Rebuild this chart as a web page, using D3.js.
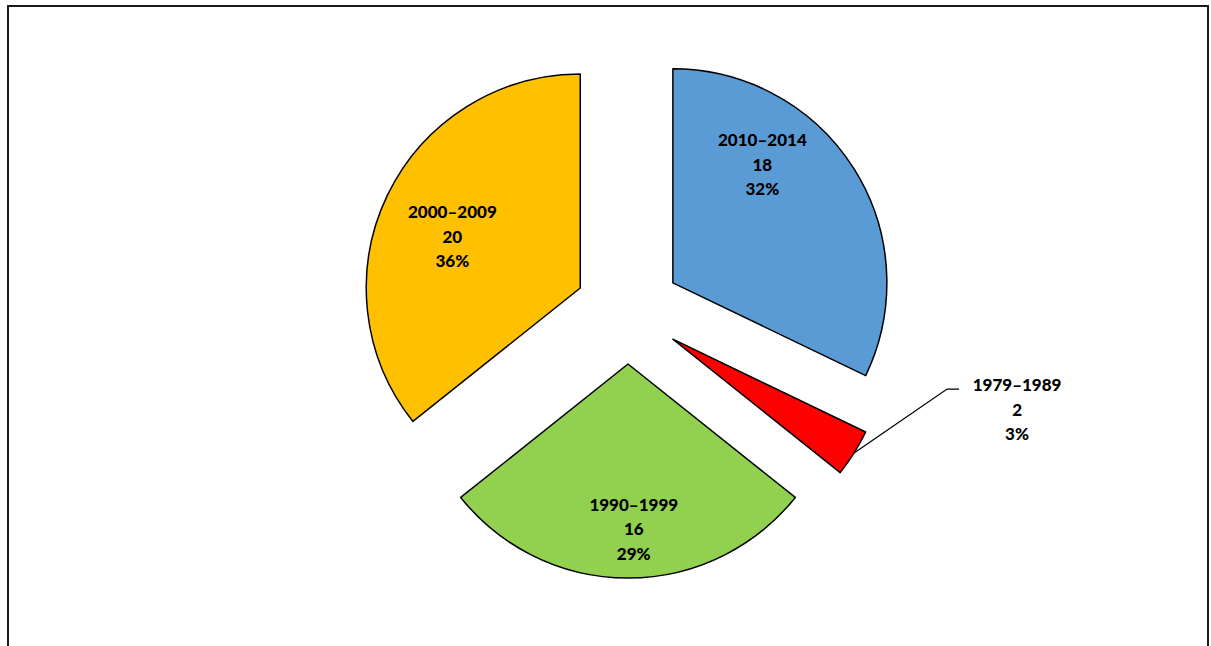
<!DOCTYPE html>
<html lang="en">
<head>
  <meta charset="UTF-8">
  <title>pie</title>
  <script type="text/javascript" src="https://cdn.jsdelivr.net/npm/d3@7"></script>
  <style>
    body { margin: 0; background: #fff; }
    text { font-family: Lato, "Open Sans", sans-serif; font-weight: 900; font-size: 17px; fill: #000; }
  </style>
</head>
<body>
<div id="chart"></div>
<script type="text/javascript">
    // data
    let categories = ["2010–2014", "1979–1989", "1990–1999", "2000–2009"];
    let counts = [18, 2, 16, 20];
    let percents = ["32%", "3%", "29%", "36%"];
    let colors = ["#5B9BD5", "#FF0000", "#92D050", "#FFC000"];

    let width = 1211, height = 646;
    let svg = d3.select("#chart").append("svg")
        .attr("width", width).attr("height", height);

    // outer frame
    svg.append("rect").attr("x", 8).attr("y", 6)
        .attr("width", 1200).attr("height", 700)
        .attr("fill", "none").attr("stroke", "#1a1a1a").attr("stroke-width", 2);

    let cx = 628, cy = 311, radius = 214, explode = 53;

    let pie = d3.pie().sort(null).value(d => d);
    let arcs = pie(counts);
    let arc = d3.arc().innerRadius(0).outerRadius(radius);

    let mid = d => (d.startAngle + d.endAngle) / 2;
    let polar = (a, r) => [Math.sin(a) * r, -Math.cos(a) * r];

    let g = svg.append("g").attr("transform", `translate(${cx},${cy})`);

    let slices = g.selectAll("g.slice").data(arcs).enter().append("g")
        .attr("class", "slice")
        .attr("transform", d => {
            let p = polar(mid(d), explode);
            return `translate(${p[0]},${p[1]})`;
        });

    slices.append("path")
        .attr("d", arc)
        .attr("fill", (d, i) => colors[i])
        .attr("stroke", "#000")
        .attr("stroke-width", 1.5)
        .attr("stroke-linejoin", "round");

    // label placement inside slices (fraction of radius, angle shift in degrees)
    let labelTweak = [
        {k: 0.694, shift: -20.8},
        null,
        {k: 0.77, shift: -2},
        {k: 0.645, shift: -3.6}
    ];
    let lineGap = 24.5;

    function writeLabel(sel, i) {
        let lines = [categories[i], counts[i], percents[i]];
        lines.forEach((t, j) => {
            sel.append("text")
                .attr("text-anchor", "middle")
                .attr("dominant-baseline", "central")
                .attr("y", (j - 1) * lineGap)
                .text(t);
        });
    }

    slices.each(function (d, i) {
        let tw = labelTweak[i];
        let s = d3.select(this);
        if (tw) {
            let p = polar(mid(d) + tw.shift * Math.PI / 180, tw.k * radius);
            let lab = s.append("g").attr("transform", `translate(${p[0]},${p[1]})`);
            writeLabel(lab, i);
        } else {
            // small slice: label outside with leader line
            let p0 = polar(mid(d), radius);
            let p1 = [p0[0] + 93, p0[1] - 64];
            let p2 = [p1[0] + 12, p1[1]];
            s.append("path")
                .attr("d", d3.line()([p0, p1, p2]))
                .attr("fill", "none").attr("stroke", "#000").attr("stroke-width", 1.3);
            let lab = s.append("g").attr("transform", `translate(${p2[0] + 58},${p2[1] + 20})`);
            writeLabel(lab, i);
        }
    });
</script>
</body>
</html>
